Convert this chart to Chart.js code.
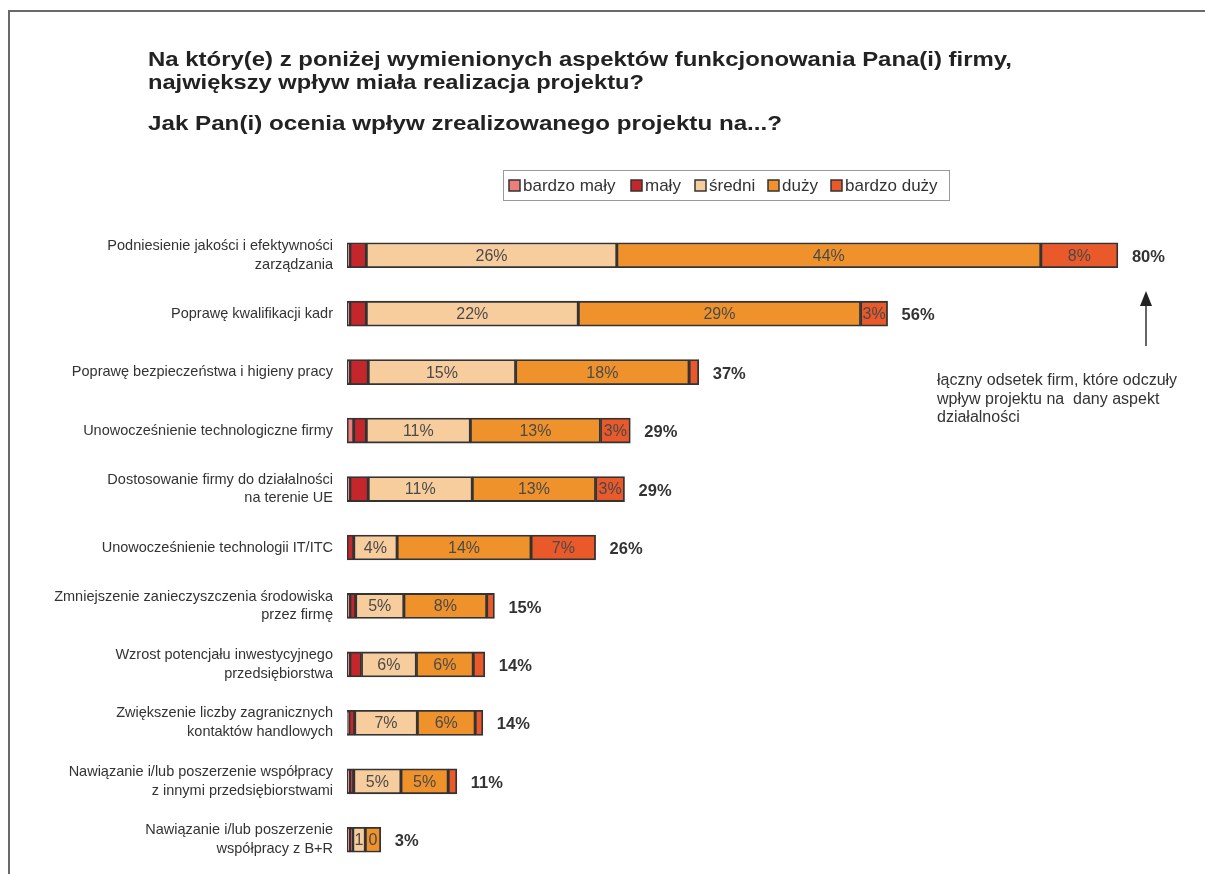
<!DOCTYPE html>
<html><head><meta charset="utf-8">
<script src="https://cdn.jsdelivr.net/npm/chart.js@4/dist/chart.umd.min.js"></script>
<style>html,body{margin:0;padding:0;background:#fff;}#wrap{width:1205px;height:874px;position:relative;}</style>
</head><body><div id="wrap"><canvas id="c" width="1205" height="874"></canvas></div>
<script>
const categories = [
  ['Podniesienie jakości i efektywności','zarządzania'],
  ['Poprawę kwalifikacji kadr'],
  ['Poprawę bezpieczeństwa i higieny pracy'],
  ['Unowocześnienie technologiczne firmy'],
  ['Dostosowanie firmy do działalności','na terenie UE'],
  ['Unowocześnienie technologii IT/ITC'],
  ['Zmniejszenie zanieczyszczenia środowiska','przez firmę'],
  ['Wzrost potencjału inwestycyjnego','przedsiębiorstwa'],
  ['Zwiększenie liczby zagranicznych','kontaktów handlowych'],
  ['Nawiązanie i/lub poszerzenie współpracy','z innymi przedsiębiorstwami'],
  ['Nawiązanie i/lub poszerzenie','współpracy z B+R']
];
const seriesNames = ['bardzo mały','mały','średni','duży','bardzo duży'];
const bardzoMaly = [0.3, 0.3, 0.3, 0.7, 0.3, 0.0, 0.3, 0.3, 0.2, 0.3, 0.3];
const maly       = [1.7, 1.7, 1.9, 1.3, 1.9, 0.7, 0.6, 1.2, 0.6, 0.4, 0.3];
const sredni     = [26, 22, 15.3, 10.8, 10.8, 4.5, 5.0, 5.7, 6.5, 4.9, 1.3];
const duzy       = [44, 29.3, 18, 13.5, 12.8, 13.9, 8.6, 5.9, 6.0, 4.9, 1.6];
const bardzoDuzy = [8, 2.8, 1.0, 3.1, 3.0, 6.7, 0.8, 1.2, 0.8, 0.9, 0.0];
const sredniLabels = ['26%','22%','15%','11%','11%','4%','5%','6%','7%','5%','1'];
const duzyLabels   = ['44%','29%','18%','13%','13%','14%','8%','6%','6%','5%','0'];
const bardzoDuzyLabels = ['8%','3%','','3%','3%','7%','','','','',''];
const totals = ['80%','56%','37%','29%','29%','26%','15%','14%','14%','11%','3%'];
const colors = ['#EC7F7C','#C4262C','#F7CD9E','#F0922C','#E9592A'];
const titleLines = [
  'Na który(e) z poniżej wymienionych aspektów funkcjonowania Pana(i) firmy,',
  'największy wpływ miała realizacja projektu?',
  'Jak Pan(i) ocenia wpływ zrealizowanego projektu na...?'
];
const noteLines = ['łączny odsetek firm, które odczuły','wpływ projektu na  dany aspekt','działalności'];

const FONT = '"Liberation Sans", Arial, sans-serif';
const allData = [bardzoMaly, maly, sredni, duzy, bardzoDuzy];
const segLabels = [null, null, sredniLabels, duzyLabels, bardzoDuzyLabels];

function fitText(ctx, text, x, y, targetW) {
  const w = ctx.measureText(text).width;
  const s = targetW / w;
  ctx.save();
  ctx.translate(x, y);
  ctx.scale(s, 1);
  ctx.fillText(text, 0, 0);
  ctx.restore();
}

const decor = {
  id: 'decor',
  beforeDraw(chart) {
    const ctx = chart.ctx;
    ctx.save();
    ctx.fillStyle = '#fff';
    ctx.fillRect(0,0,chart.width,chart.height);
    ctx.strokeStyle = '#6a6a6a';
    ctx.lineWidth = 2;
    ctx.beginPath();
    ctx.moveTo(9, 874); ctx.lineTo(9, 11); ctx.lineTo(1205, 11);
    ctx.stroke();
    // title
    ctx.fillStyle = '#222';
    ctx.font = 'bold 21px ' + FONT;
    ctx.textBaseline = 'middle';
    ctx.textAlign = 'left';
    fitText(ctx, titleLines[0], 148, 60, 864);
    fitText(ctx, titleLines[1], 148, 83, 496);
    fitText(ctx, titleLines[2], 148, 124, 634);
    // legend
    ctx.strokeStyle = '#9a9a9a'; ctx.lineWidth = 1;
    ctx.strokeRect(503.5, 170.5, 446, 30);
    ctx.font = '17px ' + FONT;
    const sw = [509, 631, 695, 768, 831];
    for (let i = 0; i < 5; i++) {
      ctx.fillStyle = colors[i];
      ctx.fillRect(sw[i], 180, 11, 11);
      ctx.strokeStyle = '#333'; ctx.lineWidth = 1.5;
      ctx.strokeRect(sw[i], 180, 11, 11);
      ctx.fillStyle = '#333';
      ctx.fillText(seriesNames[i], sw[i] + 14, 186);
    }
    // arrow and note
    ctx.strokeStyle = '#333'; ctx.lineWidth = 1.5;
    ctx.beginPath(); ctx.moveTo(1146, 346); ctx.lineTo(1146, 304); ctx.stroke();
    ctx.fillStyle = '#222';
    ctx.beginPath(); ctx.moveTo(1146, 291); ctx.lineTo(1140, 306); ctx.lineTo(1152, 306); ctx.closePath(); ctx.fill();
    ctx.fillStyle = '#333';
    ctx.font = '16px ' + FONT;
    noteLines.forEach((t, i) => ctx.fillText(t, 937, 381 + i * 18.5));
    ctx.restore();
  },
  afterDatasetsDraw(chart) {
    const ctx = chart.ctx;
    ctx.save();
    ctx.textBaseline = 'middle';
    ctx.textAlign = 'center';
    for (let d = 0; d < allData.length; d++) {
      const labels = segLabels[d];
      if (!labels) continue;
      const meta = chart.getDatasetMeta(d);
      meta.data.forEach((bar, i) => {
        const t = labels[i];
        if (!t) return;
        const left = Math.min(bar.x, bar.base), right = Math.max(bar.x, bar.base);
        ctx.save();
        ctx.beginPath(); ctx.rect(left, bar.y - 14, right - left, 28); ctx.clip();
        ctx.fillStyle = '#4a4a4a';
        ctx.font = '16px ' + FONT;
        ctx.fillText(t, (left + right) / 2, bar.y + 1);
        ctx.restore();
      });
    }
    // totals
    const last = chart.getDatasetMeta(allData.length - 1);
    ctx.textAlign = 'left';
    ctx.font = 'bold 16.5px ' + FONT;
    ctx.fillStyle = '#333';
    last.data.forEach((bar, i) => {
      ctx.fillText(totals[i], Math.max(bar.x, bar.base) + 14, bar.y + 2);
    });
    ctx.restore();
  }
};

new Chart(document.getElementById('c'), {
  type: 'bar',
  data: {
    labels: categories,
    datasets: allData.map((arr, i) => ({
      label: seriesNames[i],
      data: arr,
      backgroundColor: colors[i],
      borderColor: '#333',
      borderWidth: 1.8,
      borderSkipped: false,
      barThickness: 25
    }))
  },
  options: {
    indexAxis: 'y',
    responsive: false,
    animation: false,
    events: [],
    layout: { padding: { left: 0, top: 226, bottom: 5, right: 10 } },
    plugins: { legend: { display: false }, title: { display: false }, tooltip: { enabled: false } },
    scales: {
      x: { stacked: true, min: 0, max: 88, display: false },
      y: {
        stacked: true,
        grid: { display: false, drawTicks: false },
        border: { display: false },
        ticks: { padding: 14, color: '#333', font: { family: FONT, size: 14.5, lineHeight: 1.3 } },
        afterFit(scale) { scale.width = 347; scale.paddingTop = 0; scale.paddingBottom = 0; }
      }
    }
  },
  plugins: [decor]
});
</script></body></html>
